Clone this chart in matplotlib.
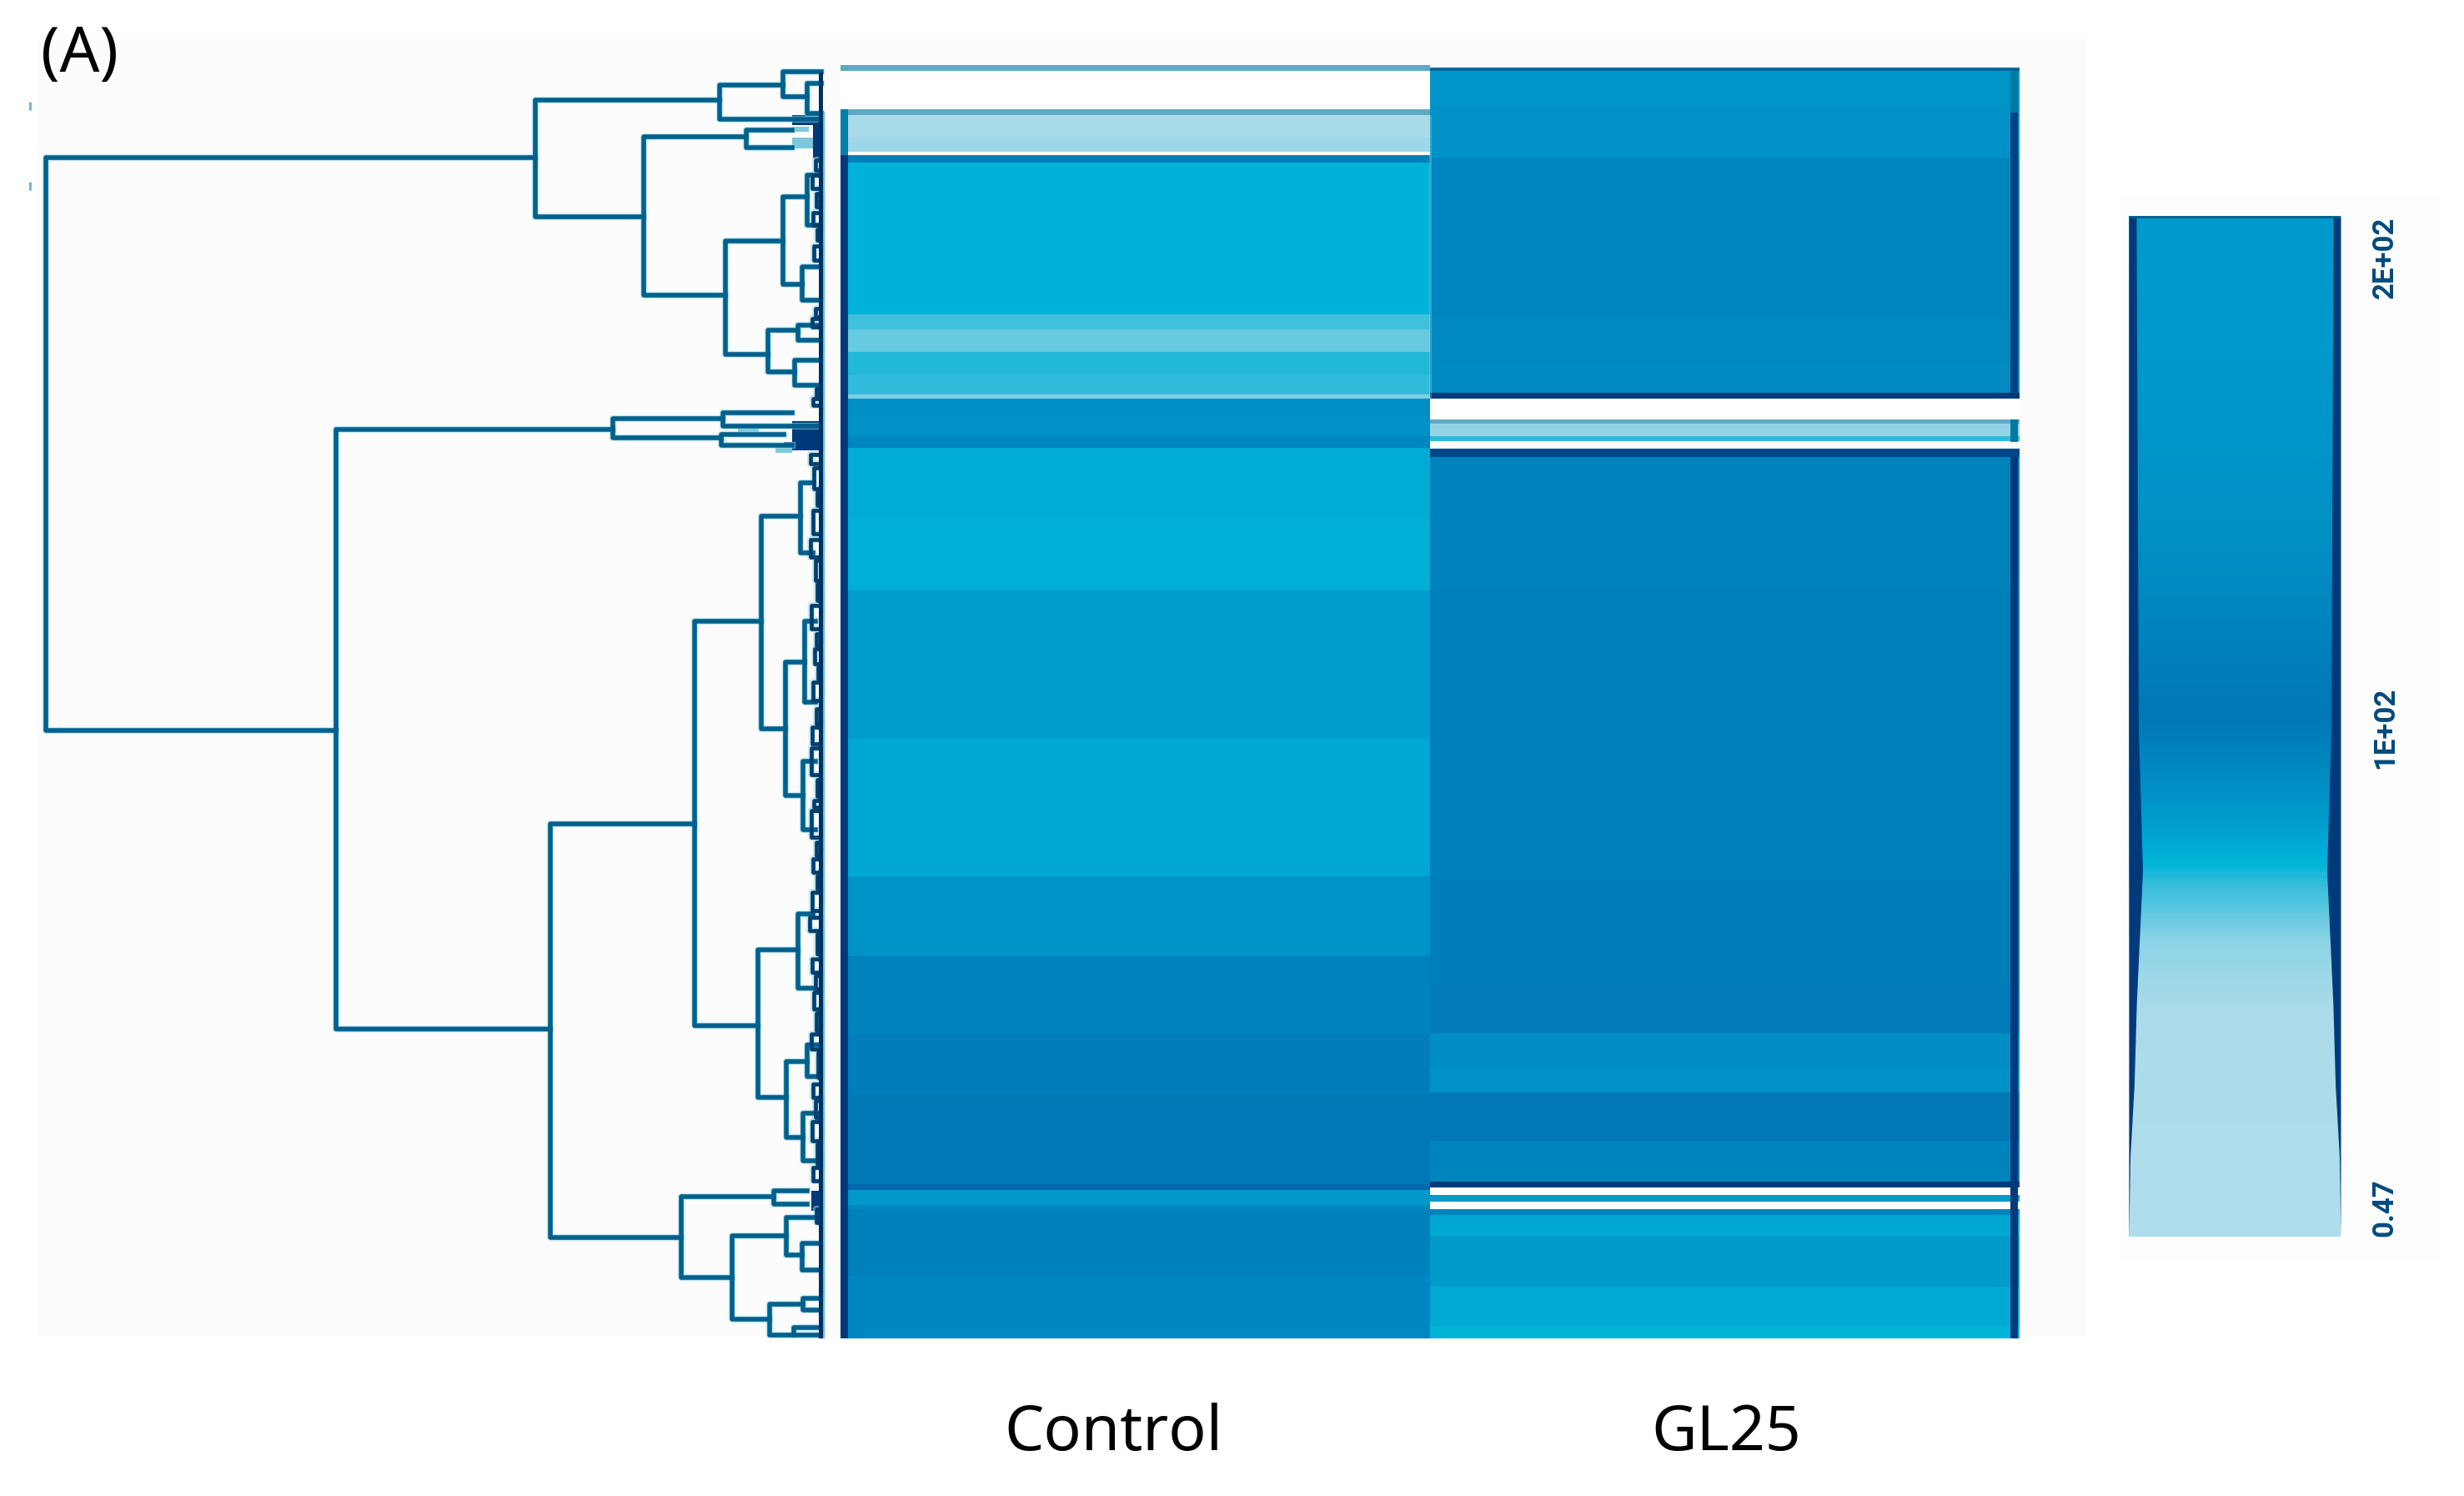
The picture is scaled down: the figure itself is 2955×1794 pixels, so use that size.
import numpy as np
import matplotlib
matplotlib.use('Agg')
import matplotlib.pyplot as plt
from matplotlib.colors import LinearSegmentedColormap
from matplotlib.patches import Rectangle

W, H = 2955, 1794

# colour scale, value -> colour
cmap_values = [0.47, 44, 58, 70, 73, 85, 102, 138, 175, 200]
cmap_colors = ['#AEDDEB', '#ABDBEA', '#8CD3E6', '#2DBBDA', '#00B4D8',
               '#0094C8', '#0077B6', '#0090C4', '#0099CC', '#0099CC']
cbar_ticks = [200, 100, 0.47]
cbar_labels = ['2E+02', '1E+02', '0.47']

# heat map bands, row position of the band edges and value of each band
control_edges = [78, 85, 131, 138, 165, 182, 186, 195, 377, 395, 422, 450, 473, 478, 498, 523, 537,
                 620, 708, 885, 1051, 1146, 1240, 1313, 1420, 1427, 1445, 1450, 1530, 1605]
control_values = [np.nan, np.nan, np.nan, 45, 50, np.nan, 97, 74, 67.7, 62.8, 70.7, 69.6, 60, 88, 86, 93,
                  76.4, 75, 82, 78, 85.5, 95, 98.3, 101.5, 102, 84, 92, 96, 93]
gl25_edges = [78, 81, 85, 127, 189, 381, 435, 471, 478, 503, 508, 523, 529, 538, 548, 703, 1051, 1180,
              1239, 1280, 1310, 1368, 1417, 1424, 1433, 1441, 1450, 1457, 1475, 1482, 1543, 1590, 1605]
gl25_values = [np.nan, 102, 85, 86, 93.6, 92, 91, 102, np.nan, np.nan, 55, 70, np.nan, 102, 95, 97, 98,
               100, 89, 86, 101.5, 94, 102, np.nan, 83, np.nan, 95, 78.6, 76.5, 82.5, 77, 73]
columns = ['Control', 'GL25']

# rows where the value is missing but a thin line is left: row top, row bottom, column, colour
edge_y0 = [78, 131, 1420, 81, 471, 503, 538, 1417]
edge_y1 = [85, 138, 1427, 85, 478, 508, 548, 1424]
edge_col = [0, 0, 0, 1, 1, 1, 1, 1]
edge_color = ['#5FA9C3', '#5FA9C3', '#0068AE', '#00689B', '#013A7A', '#62A9C4', '#01478A', '#013A7A']

# dark side bars of the heat map: column side, row top, row bottom, colour
side_col = [0, 0, 1, 1, 1, 1, 1]
side_y0 = [131, 186, 85, 135, 503, 548, 1417]
side_y1 = [186, 1605, 135, 471, 530, 1417, 1605]
side_color = ['#0080A8', '#013A7A', '#00789F', '#01427F', '#00789F', '#013A7A', '#013A7A']

# dendrogram nodes: x of the node, y of both children, x of both children
node_x = [55, 642, 863, 939, 968, 772, 895, 870, 939, 968, 962, 921, 957, 953,
          403, 735, 867, 865, 660, 833, 913, 960, 942, 965, 963, 909, 957, 943, 968, 963,
          817, 928, 878, 943, 962, 923, 963, 952]
node_y1 = [189, 120, 102, 86, 100, 164, 156, 289, 236, 210, 320, 396, 390, 432,
           515, 502, 495, 521, 988, 745, 619, 579, 794, 745, 913, 1139, 1096, 1273, 1253, 1335,
           1435, 1428, 1482, 1460, 1491, 1564, 1557, 1592]
node_y2 = [876, 260, 143, 116, 136, 354, 177, 425, 341, 270, 360, 446, 408, 462,
           1234, 525, 511, 534, 1484, 1230, 874, 663, 954, 842, 995, 1316, 1185, 1364, 1291, 1392,
           1532, 1444, 1582, 1505, 1523, 1601, 1571, 1601]
child_x1 = [642, 863, 939, 985, 985, 895, 950, 939, 968, 985, 985, 957, 985, 985,
            735, 867, 950, 940, 833, 913, 960, 975, 965, 978, 978, 957, 975, 968, 985, 985,
            928, 968, 943, 985, 985, 963, 985, 985]
child_x2 = [403, 772, 985, 968, 985, 870, 950, 921, 962, 985, 985, 953, 985, 985,
            660, 865, 985, 950, 817, 909, 942, 975, 963, 978, 978, 943, 975, 963, 985, 985,
            878, 968, 923, 962, 985, 952, 985, 985]

# small leaf clusters along the right edge of the dendrogram
fine_x = [978, 974, 979, 975, 980, 976, 978, 974, 979, 975, 972, 976, 980, 975, 972, 978, 980, 973, 979, 977,
          981, 975, 979, 974, 973, 980, 976, 973, 979, 975, 980, 974, 971, 980, 974, 978, 976, 979, 973, 981,
          975, 978, 974, 980, 975, 979]
fine_y1 = [192, 210, 232, 255, 275, 295, 370, 382, 466, 478, 545, 561, 590, 612, 647, 672, 700, 726, 760, 778,
           800, 818, 850, 872, 897, 935, 960, 972, 1010, 1030, 1050, 1070, 1100, 1120, 1150, 1170, 1190, 1215,
           1240, 1262, 1300, 1320, 1345, 1372, 1400, 1450]
fine_y2 = [204, 226, 248, 270, 288, 312, 380, 392, 476, 486, 556, 586, 606, 640, 668, 696, 720, 754, 774, 796,
           814, 840, 868, 892, 929, 955, 968, 1004, 1026, 1046, 1066, 1092, 1116, 1144, 1166, 1186, 1210, 1236,
           1258, 1292, 1316, 1340, 1368, 1396, 1416, 1466]

# dense leaf blocks and the paler chips inside them
mass_x0 = [950, 975, 950, 973, 940]
mass_y0 = [138, 150, 505, 1428, 530]
mass_y1 = [150, 190, 535, 1452, 540]
chip_x0 = [950, 950, 885, 930]
chip_x1 = [970, 975, 910, 950]
chip_y0 = [152, 165, 510, 533]
chip_y1 = [158, 178, 518, 543]

# colour bar side strips, width as a share of the bar against the value
strip_values = [0.47, 16, 30, 46, 72, 100, 200]
strip_widths = [0.0, 0.006, 0.025, 0.036, 0.065, 0.045, 0.035]

plt.rcParams['font.family'] = ['Noto Sans', 'DejaVu Sans']
fig = plt.figure(figsize=(W / 100, H / 100), dpi=100, facecolor='white')


def box(x0, y0, x1, y1):
    ax = fig.add_axes([x0 / W, 1 - y1 / H, (x1 - x0) / W, (y1 - y0) / H])
    ax.set_axis_off()
    return ax


# pale panels behind the tree/heat map and the colour bar
fig.patches.append(Rectangle((45 / W, 1 - 1602 / H), 2458 / W, 1556 / H, transform=fig.transFigure,
                             facecolor='#FCFCFC', edgecolor='none', zorder=-1))
fig.patches.append(Rectangle((2543 / W, 1 - 1510 / H), 384 / W, 1278 / H, transform=fig.transFigure,
                             facecolor='#FDFDFD', edgecolor='none', zorder=-1))

cmap = LinearSegmentedColormap.from_list(
    'heat', [((v - cmap_values[0]) / (cmap_values[-1] - cmap_values[0]), c) for v, c in zip(cmap_values, cmap_colors)],
    N=512)
cmap.set_bad('white')

# heat map
ax = box(1008, 78, 2422, 1605)
ax.set_xlim(0, 2)
ax.set_ylim(1605, 78)
ax.pcolormesh([0, 1], control_edges, np.array(control_values).reshape(-1, 1), cmap=cmap,
              vmin=cmap_values[0], vmax=cmap_values[-1])
ax.pcolormesh([1, 2], gl25_edges, np.array(gl25_values).reshape(-1, 1), cmap=cmap,
              vmin=cmap_values[0], vmax=cmap_values[-1])
for y0, y1, col, c in zip(edge_y0, edge_y1, edge_col, edge_color):
    ax.fill_between([col, col + 1], y0, y1, color=c, lw=0)
for col, y0, y1, c in zip(side_col, side_y0, side_y1, side_color):
    x0 = 0.0 if col == 0 else 1.985
    x1 = 0.013 if col == 0 else 1.997
    ax.fill_betweenx([y0, y1], x0, x1, color=c, lw=0)
# pale seam between the two columns at the top
ax.vlines(1.0, 138, 478, color='#8FDDEE', lw=2.0, alpha=0.35)

# dendrogram
tree = box(0, 78, 990, 1605)
tree.set_xlim(0, 990)
tree.set_ylim(1605, 78)
tree_color = '#00608C'
segs = []
for x, y1, y2, c1, c2 in zip(node_x, node_y1, node_y2, child_x1, child_x2):
    segs.append(([c1, x, x, c2], [y1, y1, y2, y2]))
fine_segs = []
for x, y1, y2 in zip(fine_x, fine_y1, fine_y2):
    fine_segs.append(([985, x, x, 985], [y1, y1, y2, y2]))
for xs, ys in segs + fine_segs:
    tree.plot(xs, ys, color='#9AD8E8', lw=6.0, alpha=0.55, solid_joinstyle='round', clip_on=False)
for xs, ys in segs:
    tree.plot(xs, ys, color=tree_color, lw=4.0, solid_joinstyle='round', clip_on=False)
for xs, ys in fine_segs:
    tree.plot(xs, ys, color='#003F70', lw=3.4, solid_joinstyle='round', clip_on=False)
tree.vlines(988, 135, 1605, color='#59C3DC', lw=1.6)
tree.vlines(984, 86, 1605, color='#00305F', lw=3.6)
for x0, y0, y1 in zip(mass_x0, mass_y0, mass_y1):
    tree.fill_between([x0, 988], y0, y1, color='#013A7A', lw=0)
for x0, x1, y0, y1 in zip(chip_x0, chip_x1, chip_y0, chip_y1):
    tree.fill_between([x0, x1], y0, y1, color='#7CC8DC', lw=0)

# colour bar
cb = box(2553, 259, 2807, 1483)
cb.set_xlim(0, 1)
cb.set_ylim(cbar_ticks[2], cbar_ticks[0])
grad = np.linspace(cbar_ticks[2], cbar_ticks[0], 800)
cb.pcolormesh([0, 1], grad, grad[:-1].reshape(-1, 1), cmap=cmap, vmin=cmap_values[0], vmax=cmap_values[-1])
cb.fill_betweenx(strip_values, 0, strip_widths, color='#013A7A', lw=0)
cb.fill_betweenx(strip_values, 1 - np.array(strip_widths), 1, color='#013A7A', lw=0)
cb.hlines(cbar_ticks[0], 0, 1, color='#00608C', lw=4)
label_va = ['top', 'center', 'bottom']
for v, s, va in zip(cbar_ticks, cbar_labels, label_va):
    cb.text(1.21, v, s, rotation=90, ha='center', va=va, color='#004A7C', fontweight='bold', fontsize=25,
            family=['Roboto', 'DejaVu Sans'], clip_on=False)

# small marks at the far left and the text
page = box(0, 0, W, H)
page.set_xlim(0, W)
page.set_ylim(H, 0)
page.plot([36, 36], [127, 223], ls='none', marker='|', ms=7, mew=2, color='#6AB4C8')
page.text(49, 86, '(A)', fontsize=54, color='black', ha='left', va='baseline')
page.text(1335, 1739, columns[0], fontsize=54, color='black', ha='center', va='baseline')
page.text(2070, 1739, columns[1], fontsize=54, color='black', ha='center', va='baseline')

fig.savefig('out.png', dpi=100, facecolor='white')
